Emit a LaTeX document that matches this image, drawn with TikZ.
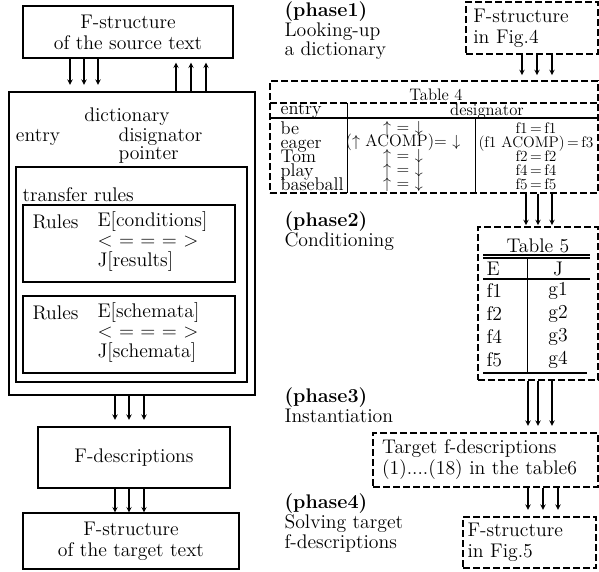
\documentclass[tikz,border=0pt]{standalone}
\usepackage{tikz}
\usetikzlibrary{shapes.geometric, arrows, positioning}

\begin{document}
\begin{tikzpicture}[x=0.75pt, y=-0.75pt, line width=0.8pt, font=\fontsize{14.8}{15.75}\selectfont]
			\tikzstyle{box} = [rectangle, draw=black, align=center, inner sep=0pt]
			\tikzstyle{dashbox} = [rectangle, draw=black, dash pattern=on 5pt off 2.5pt, align=left, inner sep=0pt]
			\tikzstyle{arrow} = [->,>=stealth]
			\tikzstyle{txt} = [inner sep=0pt, anchor=west]
			\tikzstyle{phase} = [inner sep=0pt, anchor=west, align=left, font=\fontsize{14.8}{12.75}\selectfont]
			\tikzstyle{small} = [inner sep=0pt, font={\fontsize{12.5}{10.5}\selectfont\lineskiplimit-20pt\relax}]
			\tikzstyle{smaller} = [inner sep=0pt, font={\fontsize{11.5}{10.5}\selectfont\lineskiplimit-20pt\relax}]
			\tikzstyle{wide} = [inner sep=0pt, font={\fontsize{13.8}{10.5}\selectfont\lineskiplimit-20pt\relax}]

			\useasboundingbox (0,0) rectangle (599,571);

			% left: the transfer flow
			\node (source) [box, minimum width=157.5pt, minimum height=39pt] at (128,32) {F-structure\\of the source text};
			\node (dict) [box, minimum width=184.5pt, minimum height=227.25pt] at (132,243.5) {};
			\node (dictname) [inner sep=0pt] at (127,117) {dictionary};
			\node (entry) [inner sep=0pt] at (38,137) {entry};
			\node (desig) [txt, align=left, font=\fontsize{14.8}{13.5}\selectfont] at (118,146) {disignator\\pointer};
			\node (transfer) [box, minimum width=173.25pt, minimum height=161.25pt] at (131.5,274.5) {};
			\node (trname) [txt] at (22,195) {transfer rules};

			\node (rules1) [box, minimum width=159pt, minimum height=57.75pt] at (129,243.5) {};
			\node (r1name) [txt] at (32,222) {Rules};
			\node (r1body) [txt, align=left, font=\fontsize{14.8}{15}\selectfont] at (97,242) {E[conditions]\\< = = = >\\J[results]};
			\node (rules2) [box, minimum width=159pt, minimum height=57.75pt] at (129,334.5) {};
			\node (r2name) [txt] at (32,313) {Rules};
			\node (r2body) [txt, align=left, font=\fontsize{14.8}{15}\selectfont] at (97,333) {E[schemata]\\< = = = >\\J[schemata]};

			\node (fdesc) [box, minimum width=144pt, minimum height=45.75pt] at (134,457.5) {F-descriptions};
			\node (target) [box, minimum width=162pt, minimum height=42pt] at (131,541) {F-structure\\of the target text};

			\foreach \x in {70,84,98}
				\draw [arrow, shorten >=5pt] (\x,0 |- source.south) -- (\x,0 |- dict.north);
			\foreach \x in {176,191,206}
				\draw [arrow, shorten >=3pt] (\x,0 |- dict.north) -- (\x,0 |- source.south);
			\foreach \x in {115,129,144}
				\draw [arrow, shorten >=5pt] (\x,0 |- dict.south) -- (\x,0 |- fdesc.north);
			\foreach \x in {115,129,144}
				\draw [arrow] (\x,0 |- fdesc.south) -- (\x,0 |- target.north);

			% right: the four phases
			\node (ph1) [phase] at (284,31) {\textbf{(phase1)}\\Looking-up\\a dictionary};
			\node (ph2) [phase] at (284,231) {\textbf{(phase2)}\\Conditioning};
			\node (ph3) [phase] at (284,405) {\textbf{(phase3)}\\Instantiation};
			\node (ph4) [phase] at (284,523) {\textbf{(phase4)}\\Solving target\\f-descriptions};

			\node (fig4) [dashbox, minimum width=99pt, minimum height=39pt, text width=88pt] at (532,28) {F-structure\\in Fig.4};

			% Table 4
			\node (tab4) [dashbox, minimum width=246pt, minimum height=84pt] at (434,137) {};
			\draw [dash pattern=on 5pt off 2.5pt] (270,103) -- (598,103);
			\draw (270,118) -- (598,118);
			\draw [line width=0.6pt] (347,103) -- (347,193);
			\draw [line width=0.6pt] (475,118) -- (475,193);
			\node (tab4title) [small] at (436,95) {Table 4};
			\node (entryhead) [wide, anchor=west] at (280,111) {entry};
			\node (desighead) [small] at (487,111) {designator};
			\node (entries) [wide, anchor=west, align=left] at (280,156) {be\\eager\\Tom\\play\\baseball};
			\node (pointers) [small, align=center] at (403,156) {$\uparrow$ = $\downarrow$\\($\uparrow$ ACOMP)= $\downarrow$\\$\uparrow$ = $\downarrow$\\$\uparrow$ = $\downarrow$\\$\uparrow$ = $\downarrow$};
			\node (desigs) [smaller, align=center] at (536,156) {f1\,=\,f1\\(f1 ACOMP)\,=\,f3\\f2\,=\,f2\\f4\,=\,f4\\f5\,=\,f5};

			% Table 5
			\node (tab5) [dashbox, minimum width=90pt, minimum height=114.75pt] at (538,303.5) {};
			\node (tab5title) [inner sep=0pt] at (538,246) {Table 5};
			\draw (483,255) -- (590,255);
			\draw (483,258) -- (590,258);
			\draw (483,279) -- (590,279);
			\draw (483,373) -- (587,373);
			\draw [line width=0.6pt] (527,258) -- (527,373);
			\node (ehead) [txt] at (486,269) {E};
			\node (jhead) [inner sep=0pt] at (558,269) {J};
			\foreach \e/\g [count=\i] in {f1/g1,f2/g2,f4/g3,f5/g4} {
				\node (e\i) [txt] at (486,268+23*\i) {\e};
				\node (g\i) [inner sep=0pt] at (558,268+23*\i) {\g};
			}

			\node (tgt) [dashbox, minimum width=168.75pt, minimum height=40.5pt, text width=155pt] at (485.5,460) {Target f-descriptions\\(1)....(18) in the table6};
			\node (fig5) [dashbox, minimum width=99.75pt, minimum height=38.25pt, text width=93pt] at (529.5,542.5) {F-structure\\in Fig.5};

			\foreach \x in {522,537,552}
				\draw [arrow, shorten >=4pt] (\x,0 |- fig4.south) -- (\x,0 |- tab4.north);
			\foreach \x in {526,538,552}
				\draw [arrow, shorten >=1pt] (\x,0 |- tab4.south) -- (\x,0 |- tab5.north);
			\foreach \x in {528,538,552}
				\draw [arrow, shorten >=5pt] (\x,0 |- tab5.south) -- (\x,0 |- tgt.north);
			\foreach \x in {528,543,558}
				\draw [arrow, shorten >=5pt] (\x,0 |- tgt.south) -- (\x,0 |- fig5.north);

		\end{tikzpicture}
\end{document}
